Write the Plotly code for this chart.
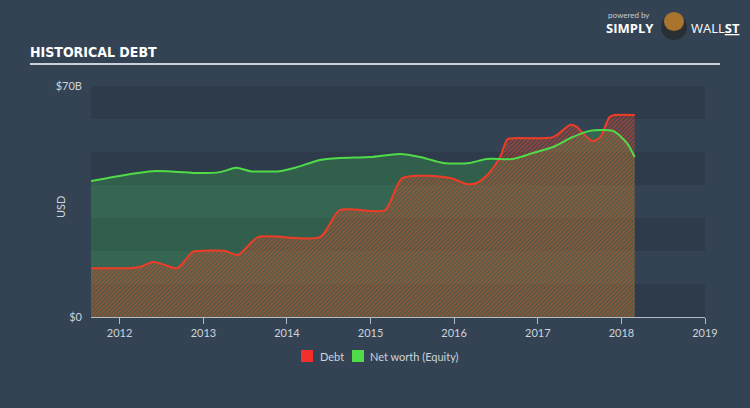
import plotly.graph_objects as go

# ---- data (USD billions) ----
debt_dates = ["2011-08-29", "2012-02-15", "2012-04-01", "2012-05-25", "2012-07-15", "2012-09-08",
              "2012-11-15", "2012-12-15", "2013-04-05", "2013-06-01", "2013-08-28", "2014-05-25",
              "2014-08-20", "2015-03-05", "2015-05-20", "2015-12-15", "2016-02-25", "2016-04-10",
              "2016-06-05", "2016-07-20", "2016-08-22", "2016-10-01", "2017-03-08", "2017-05-22",
              "2017-06-20", "2017-07-15", "2017-08-28", "2017-10-01", "2017-11-10", "2017-12-02",
              "2018-02-28"]
debt_values = [14.8, 14.8, 15.2, 16.7, 15.8, 14.8,
               19.7, 20.0, 20.0, 18.8, 24.2, 24.2,
               32.4, 32.4, 42.1, 42.1, 40.3, 40.6,
               43.9, 48.5, 53.9, 54.2, 54.5, 58.2,
               57.6, 55.8, 53.3, 54.5, 60.6, 61.2,
               61.2]

equity_dates = ["2011-08-29", "2012-05-25", "2012-12-15", "2013-03-15", "2013-05-25", "2013-07-25",
                "2013-12-01", "2014-02-05", "2014-05-25", "2014-08-20", "2015-01-01", "2015-05-10",
                "2015-08-05", "2015-11-15", "2016-03-10", "2016-05-22", "2016-09-12", "2016-12-10",
                "2017-03-08", "2017-06-01", "2017-08-15", "2017-11-25", "2018-01-25", "2018-02-28"]
equity_values = [41.2, 44.2, 43.6, 43.9, 45.2, 44.2,
                 44.2, 45.2, 47.6, 48.2, 48.5, 49.4,
                 48.5, 46.7, 46.7, 47.9, 47.9, 49.7,
                 51.5, 54.5, 56.4, 56.4, 52.7, 48.5]

series_names = ["Debt", "Net worth (Equity)"]
y_tick_vals = [0, 70]
y_tick_text = ["$0", "$70B"]
x_tick_vals = ["2012-01-01", "2013-01-01", "2014-01-01", "2015-01-01",
               "2016-01-01", "2017-01-01", "2018-01-01", "2019-01-01"]
x_tick_text = ["2012", "2013", "2014", "2015", "2016", "2017", "2018", "2019"]

BG = "#344353"
BAND = "#2e3b4b"
RED = "#f2302a"
GREEN = "#4fdc48"
TXT = "#cdd3da"
FONT = "Lato, Open Sans, sans-serif"

fig = go.Figure()

# Equity fill (below)
fig.add_trace(go.Scatter(
    x=equity_dates, y=equity_values, mode="none",
    line=dict(shape="spline", smoothing=0.7),
    fill="tozeroy", fillcolor="rgba(62,170,78,0.33)",
    showlegend=False, hoverinfo="skip"))

# Debt hatched area + line
fig.add_trace(go.Scatter(
    x=debt_dates, y=debt_values, mode="lines",
    line=dict(color="#f03c26", width=2, shape="spline", smoothing=0.7),
    fill="tozeroy", fillcolor="rgba(0,0,0,0)",
    fillpattern=dict(shape="/", size=3, solidity=0.5, fgcolor="rgba(240,70,40,1)",
                     bgcolor="rgba(190,80,45,0.12)"),
    showlegend=False, hoverinfo="skip"))

# Equity line (on top)
fig.add_trace(go.Scatter(
    x=equity_dates, y=equity_values, mode="lines",
    line=dict(color=GREEN, width=2, shape="spline", smoothing=0.7),
    showlegend=False, hoverinfo="skip"))


def px(x):
    return (x - 91) / 614


def py(y):
    return (317 - y) / 231


# bands
shapes = []
for lo in [0, 20, 40, 60]:
    shapes.append(dict(type="rect", xref="paper", yref="y", x0=0, x1=1, y0=lo, y1=lo + 10,
                       fillcolor=BAND, line=dict(width=0), layer="below"))
# title underline
shapes.append(dict(type="line", xref="paper", yref="paper",
                   x0=px(30), x1=px(720), y0=py(64), y1=py(64),
                   line=dict(color="#c9d0d8", width=2)))
# simple logo head
shapes.append(dict(type="circle", xref="paper", yref="paper",
                   x0=px(661), x1=px(687), y0=py(40), y1=py(14),
                   fillcolor="#2a2f36", line=dict(width=0)))
shapes.append(dict(type="circle", xref="paper", yref="paper",
                   x0=px(664), x1=px(684), y0=py(31), y1=py(12),
                   fillcolor="#a8742e", line=dict(width=0)))

# custom legend
legend_cols = [RED, GREEN]
legend_sq_x = [301, 352]
legend_txt_x = [318, 368]
annotations = []
for name, col, sx, tx in zip(series_names, legend_cols, legend_sq_x, legend_txt_x):
    shapes.append(dict(type="rect", xref="paper", yref="paper",
                       x0=px(sx), x1=px(sx + 12), y0=py(362), y1=py(350),
                       fillcolor=col, line=dict(width=0)))
    annotations.append(dict(text=name, x=px(tx), y=py(356), xref="paper", yref="paper",
                            xanchor="left", yanchor="middle", showarrow=False,
                            font=dict(family=FONT, size=11, color=TXT)))

annotations += [
    dict(text="powered by", x=px(606), y=py(15), xref="paper", yref="paper",
         xanchor="left", yanchor="middle", showarrow=False,
         font=dict(family=FONT, size=8, color="#c5ccd4")),
    dict(text="<b>SIMPLY</b>", x=px(604), y=py(28), xref="paper", yref="paper",
         xanchor="left", yanchor="middle", showarrow=False,
         font=dict(family="Open Sans, sans-serif", size=13, color="#ffffff")),
    dict(text="WALL<b><u>ST</u></b>", x=px(689), y=py(28), xref="paper", yref="paper",
         xanchor="left", yanchor="middle", showarrow=False,
         font=dict(family="Open Sans, sans-serif", size=13, color="#ffffff")),
    dict(text="USD", x=px(60), y=py(207), xref="paper", yref="paper", textangle=-90,
         xanchor="center", yanchor="middle", showarrow=False,
         font=dict(family=FONT, size=11, color=TXT)),
]

fig.update_layout(
    width=750, height=408,
    paper_bgcolor=BG, plot_bgcolor=BG,
    margin=dict(l=91, r=45, t=86, b=91),
    showlegend=False,
    title=dict(text="<b>HISTORICAL DEBT</b>", x=30 / 750, xanchor="left",
               y=1 - 52 / 408, yanchor="middle",
               font=dict(family="Liberation Sans Narrow, DejaVu Sans Condensed, sans-serif",
                         size=14, color="#ffffff")),
    xaxis=dict(type="date", range=["2011-08-29", "2019-01-01"],
               tickvals=x_tick_vals, ticktext=x_tick_text,
               showgrid=False, zeroline=False, showline=True, linecolor="#b4bcc6",
               linewidth=1, ticks="outside", ticklen=6, tickcolor="#b4bcc6",
               tickfont=dict(family=FONT, size=11, color=TXT)),
    yaxis=dict(range=[0, 70], tickvals=y_tick_vals, ticktext=y_tick_text,
               showgrid=False, zeroline=False, showline=False, ticks="",
               ticklabelstandoff=8,
               tickfont=dict(family=FONT, size=11, color=TXT)),
    shapes=shapes, annotations=annotations,
)

fig.write_html("out.html")
